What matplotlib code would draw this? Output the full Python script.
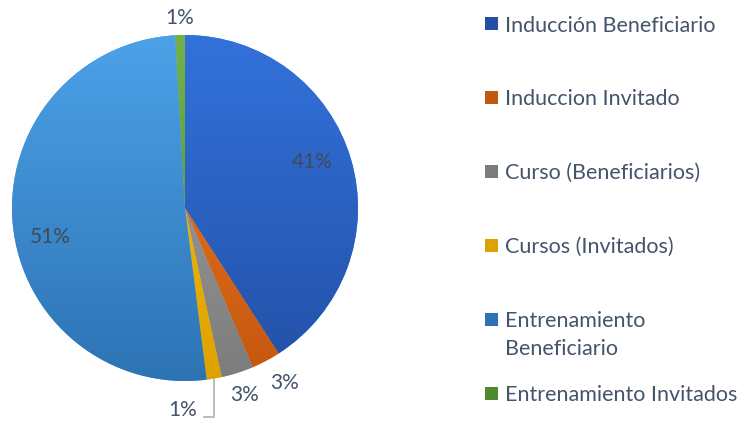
import numpy as np
import matplotlib.pyplot as plt
from matplotlib.colors import LinearSegmentedColormap
from matplotlib.patches import Rectangle

labels = ["Inducción Beneficiario", "Induccion Invitado", "Curso (Beneficiarios)",
          "Cursos (Invitados)", "Entrenamiento\nBeneficiario", "Entrenamiento Invitados"]
values = [40.9, 2.7, 3.0, 1.4, 51.1, 0.9]

# gradient colours (top, bottom) like the Excel fill
top_colors = ["#3272DB", "#F27D26", "#A8A8A8", "#FFC20A", "#4CA2E8", "#74B14A"]
bot_colors = ["#2350A6", "#C4570F", "#7C7C7C", "#DDA200", "#2D73B4", "#4F8A30"]

text_col = "#44546A"
plt.rcParams['font.family'] = ['Lato', 'DejaVu Sans']

W, H = 751, 423
fig = plt.figure(figsize=(W / 100, H / 100), dpi=100)

cx, cy, r = 185, 215, 173
k = 1.3
ax = fig.add_axes([(cx - k * r) / W, (cy - k * r) / H, 2 * k * r / W, 2 * k * r / H])

wedges, _ = ax.pie(values, startangle=90, counterclock=False, radius=1,
                   colors=top_colors, wedgeprops=dict(linewidth=0))
ax.set_xlim(-k, k)
ax.set_ylim(-k, k)
ax.set_aspect('equal')
ax.axis('off')

grad = np.linspace(0, 1, 256).reshape(-1, 1)
for w, c0, c1 in zip(wedges, top_colors, bot_colors):
    cmap = LinearSegmentedColormap.from_list("g", [c0, c1])
    im = ax.imshow(grad, cmap=cmap, extent=[-1, 1, -1, 1], origin='upper',
                   aspect='auto', zorder=2)
    im.set_clip_path(w)

# percentage labels
total = sum(values)
pct = [f"{round(v / total * 100):.0f}%" for v in values]
mids = []
a = 0
for v in values:
    mids.append(90 - (a + v / 2) / total * 360)
    a += v
# (radius factor, angle shift) per label
place = [(0.78, 3.5), (1.165, 1.8), (1.135, 0), (1.17, -10.3), (0.8, 7), (1.1, 0)]
for p, m, (rf, da) in zip(pct, mids, place):
    ang = np.radians(m + da)
    col = "#404A5A" if rf < 1 else text_col
    ax.text(rf * np.cos(ang), rf * np.sin(ang), p, ha='center', va='center',
            fontsize=15, color=col, zorder=5)

# leader line for the small yellow slice
ang = np.radians(mids[3])
x0, y0 = np.cos(ang) * 1.0, np.sin(ang) * 1.0
ax.plot([x0, x0, x0 - 0.06], [y0, -1.21, -1.21], color="#A6B0BE", lw=1.2,
        clip_on=False, zorder=4)

# legend drawn by hand
lx, ly0, step, line_h = 485 / W, (H - 24) / H, 73.8 / H, 28 / H
for i, (lab, c0, c1) in enumerate(zip(labels, top_colors, bot_colors)):
    y = ly0 - i * step
    fig.patches.append(Rectangle((lx, y - 6.5 / H), 13 / W, 13 / H, transform=fig.transFigure,
                                 facecolor=c1, edgecolor='none'))
    for j, line in enumerate(lab.split("\n")):
        fig.text(lx + 20 / W, y - 7.5 / H - j * line_h, line, ha='left', va='baseline',
                 fontsize=15.5, color=text_col)

fig.savefig("out.png", dpi=100)
